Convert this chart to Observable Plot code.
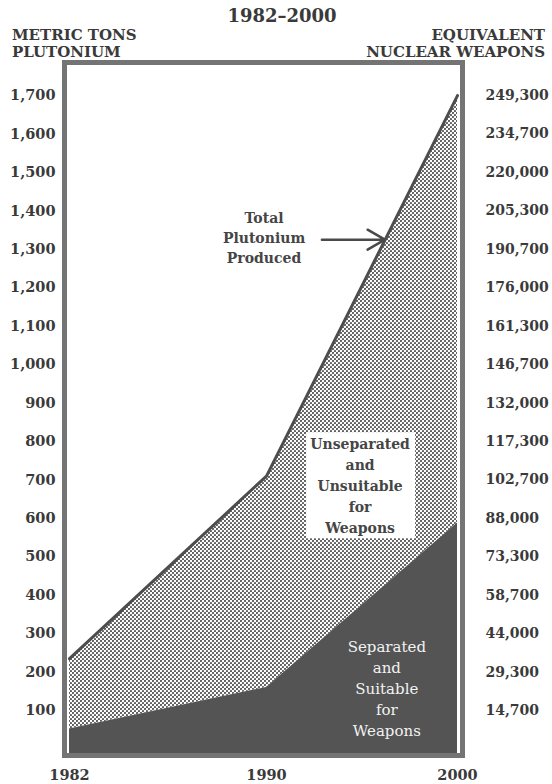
<!DOCTYPE html>
<html><head><meta charset="utf-8">
<script src="https://cdn.jsdelivr.net/npm/d3@7"></script>
<script src="https://cdn.jsdelivr.net/npm/@observablehq/plot@0.6"></script>
<style>
body{margin:0;background:#fff;}
#wrap{position:relative;width:552px;height:784px;font-family:"DejaVu Serif",serif;color:#3a3a3a;}
.t{position:absolute;font-weight:bold;white-space:nowrap;line-height:17px;font-size:15px;}
#chart{position:absolute;left:0;top:0;}
</style></head><body>
<div id="wrap">
<div id="chart"></div>
<div class="t" style="left:182px;width:200px;text-align:center;top:6px;font-size:18px;line-height:20px;">1982–2000</div>
<div class="t" style="left:12px;top:27px;">METRIC TONS</div>
<div class="t" style="left:12px;top:44px;">PLUTONIUM</div>
<div class="t" style="right:7px;top:27px;text-align:right;">EQUIVALENT</div>
<div class="t" style="right:7px;top:44px;text-align:right;">NUCLEAR WEAPONS</div>
</div>
<script>
// ---- data ----
const years = [1982, 1990, 2000];
const totalTons = [235, 710, 1700];
const separatedTons = [52, 160, 588];
const tonTicks = [100,200,300,400,500,600,700,800,900,1000,1100,1200,1300,1400,1500,1600,1700];
const weaponLabels = ["14,700","29,300","44,000","58,700","73,300","88,000","102,700","117,300","132,000","146,700","161,300","176,000","190,700","205,300","220,000","234,700","249,300"];
// annotations (data units)
const totalNote = "Total\nPlutonium\nProduced";
const unsepNote = "Unseparated\nand\nUnsuitable\nfor\nWeapons";
const sepNote = "Separated\nand\nSuitable\nfor\nWeapons";
const totalNoteAt = [1989.9, 1333];
const unsepNoteAt = [1994.9, 688];
const sepNoteAt = [1996.3, 160];
const unsepBoxYears = [1992.1, 1997.8];
const unsepBoxTons = [547, 823];
const arrowYears = [1992.9, 1996.2];
const arrowTons = 1325;

const rows = years.map((year, i) => ({year, total: totalTons[i], sep: separatedTons[i]}));
const yMin = -17, yMax = 1786;
const font = {fontFamily: "DejaVu Serif", fontWeight: "bold"};

const svg = Plot.plot({
  width: 552, height: 784,
  marginLeft: 64, marginRight: 90, marginTop: 62, marginBottom: 29,
  style: {background: "#fff", color: "#3a3a3a", fontFamily: "DejaVu Serif"},
  x: {type: "linear", domain: years, range: [69, 266, 457]},
  y: {domain: [yMin, yMax]},
  marks: [
    Plot.areaY(rows, {x: "year", y1: "sep", y2: "total", fill: "url(#dots)"}),
    Plot.rect([0], {x1: unsepBoxYears[0], x2: unsepBoxYears[1], y1: unsepBoxTons[0], y2: unsepBoxTons[1], fill: "#fff"}),
    Plot.areaY(rows, {x: "year", y1: yMin, y2: "sep", fill: "#545454"}),
    Plot.line(rows, {x: "year", y: "total", stroke: "#4d4d4d", strokeWidth: 3}),
    Plot.frame({stroke: "#747474", strokeWidth: 5}),
    Plot.axisY({anchor: "left", ticks: tonTicks, tickSize: 0, tickPadding: 9, tickFormat: d3.format(","), fontSize: 14.5, ...font, label: null}),
    Plot.axisY({anchor: "right", ticks: tonTicks, tickSize: 0, tickPadding: 23, tickFormat: (d) => weaponLabels[tonTicks.indexOf(d)], fontSize: 14, ...font, label: null}),
    Plot.axisX({ticks: years, tickSize: 0, tickPadding: 14, tickFormat: (d) => String(d), fontSize: 14.5, ...font, label: null}),
    Plot.text([totalNote], {x: totalNoteAt[0], y: totalNoteAt[1], text: (d) => d, fontSize: 14, lineHeight: 1.45, fill: "#454545", ...font}),
    Plot.arrow([0], {x1: arrowYears[0], x2: arrowYears[1], y1: arrowTons, y2: arrowTons, stroke: "#4a4a4a", strokeWidth: 2.5, headLength: 12}),
    Plot.text([unsepNote], {x: unsepNoteAt[0], y: unsepNoteAt[1], text: (d) => d, fontSize: 14, lineHeight: 1.5, fill: "#454545", ...font}),
    Plot.text([sepNote], {x: sepNoteAt[0], y: sepNoteAt[1], text: (d) => d, fontSize: 15, lineHeight: 1.4, fill: "#f2f2f2", fontFamily: "DejaVu Serif"})
  ]
});
const ns = "http://www.w3.org/2000/svg";
const defs = document.createElementNS(ns, "defs");
defs.innerHTML = '<pattern id="dots" width="4" height="4" patternUnits="userSpaceOnUse"><rect width="4" height="4" fill="#fff"/><circle cx="1" cy="1" r="1.1" fill="#555"/><circle cx="3" cy="3" r="1.1" fill="#555"/></pattern>';
svg.insertBefore(defs, svg.firstChild);
document.getElementById("chart").appendChild(svg);
</script>
</body></html>
